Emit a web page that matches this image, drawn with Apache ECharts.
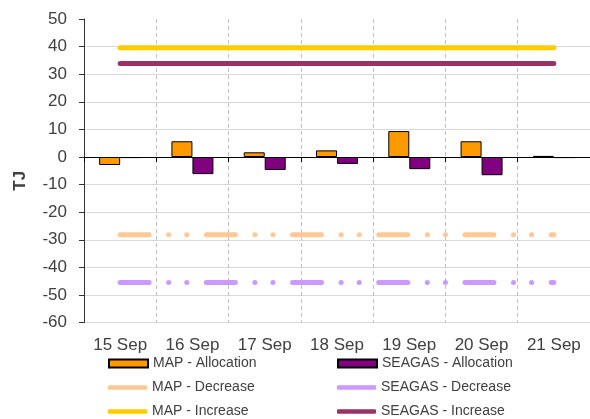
<!DOCTYPE html>
<html lang="en">

<head>
    <meta charset="UTF-8">
    <title>MAP / SEAGAS</title>
    <script src="https://cdn.jsdelivr.net/npm/echarts@6/dist/echarts.min.js"></script>
    <style>
        html, body { margin: 0; padding: 0; background: #fff; overflow: hidden; }
    </style>
</head>

<body>

    <!-- 比窗口高一点，最后一行图例会被截掉一点 -->
    <div id='main' style="width: 590px;height: 440px;"></div>

    <script>
        // 日期
        var days = ['15 Sep', '16 Sep', '17 Sep', '18 Sep', '19 Sep', '20 Sep', '21 Sep'];
        // 分配
        var mapAllocation = [-2.9, 5.7, 1.7, 2.4, 9.4, 5.7, 0.4];
        var seagasAllocation = [-0.4, -6.2, -4.7, -2.5, -4.4, -6.6, -0.4];
        // 下限
        var mapDecrease = [-28.2, -28.2, -28.2, -28.2, -28.2, -28.2, -28.2];
        var seagasDecrease = [-45.5, -45.5, -45.5, -45.5, -45.5, -45.5, -45.5];
        // 上限
        var mapIncrease = [39.6, 39.6, 39.6, 39.6, 39.6, 39.6, 39.6];
        var seagasIncrease = [33.9, 33.9, 33.9, 33.9, 33.9, 33.9, 33.9];

        var font = '"Liberation Sans", Arial, sans-serif';
        var dotDash = [29, 19.5, 0.1, 18, 0.1, 19.5];

        var myChart = echarts.init(document.getElementById('main'));

        // 横向网格线，最上面一条不画
        var gridColors = [];
        for (var i = 0; i < 11; i++) {
            gridColors.push('#d9d9d9');
        }
        gridColors.push('rgba(0,0,0,0)');

        function lineSeries(name, data, color, dash) {
            return {
                name: name,
                type: 'line',
                data: data,
                symbol: 'none',
                z: 5,
                lineStyle: { color: color, width: 5, type: dash || 'solid', cap: 'round' },
                itemStyle: { color: color }
            };
        }

        // 图例：每一项单独放
        function legendItem(name, left, rowY, isBar) {
            var h = isBar ? 8 : 4.5;
            return {
                orient: 'vertical',
                left: left,
                top: rowY - 8,
                itemWidth: 39,
                itemHeight: h,
                selectedMode: false,
                padding: 0,
                textStyle: { fontFamily: font, fontSize: 14, color: '#404040', lineHeight: 16 },
                data: [{ name: name, icon: isBar ? 'rect' : 'roundRect' }]
            };
        }

        var row1 = 363.5, row2 = 387.5, row3 = 411.5;

        var option = {
            animation: false,
            textStyle: { fontFamily: font },
            grid: { left: 84, top: 19, width: 511, height: 303.6, containLabel: false },
            legend: [
                legendItem('MAP - Allocation', 108, row1, true),
                legendItem('MAP - Decrease', 108, row2, false),
                legendItem('MAP - Increase', 108, row3, false),
                legendItem('SEAGAS - Allocation', 337, row1, true),
                legendItem('SEAGAS - Decrease', 337, row2, false),
                legendItem('SEAGAS - Increase', 337, row3, false)
            ],
            xAxis: [
                {
                    type: 'category',
                    data: days,
                    position: 'bottom',
                    axisLine: { show: false, onZero: false },
                    axisTick: { show: false },
                    axisLabel: { fontSize: 17, color: '#404040', margin: 14, fontFamily: font },
                    splitLine: {
                        show: true,
                        interval: 0,
                        lineStyle: { color: '#c0c0c0', type: [4, 3], width: 1 }
                    }
                },
                {
                    type: 'category',
                    data: days,
                    position: 'top',
                    axisLine: { show: true, onZero: true, lineStyle: { color: '#000', width: 1 } },
                    axisTick: { show: true, inside: true, length: 5, interval: 0, lineStyle: { color: '#000' } },
                    axisLabel: { show: false },
                    splitLine: { show: false }
                }
            ],
            yAxis: {
                type: 'value',
                min: -60,
                max: 50,
                interval: 10,
                name: 'TJ',
                nameLocation: 'middle',
                nameGap: 55,
                nameTextStyle: { fontSize: 17, fontWeight: 'bold', color: '#404040', fontFamily: font, padding: [0, 20, 0, 0] },
                axisLine: { show: true, lineStyle: { color: '#333' } },
                axisTick: { show: true, length: 5, lineStyle: { color: '#333' } },
                axisLabel: { fontSize: 17, color: '#404040', margin: 17, fontFamily: font },
                splitLine: { show: true, lineStyle: { color: gridColors, width: 1 } }
            },
            series: [
                {
                    name: 'MAP - Allocation',
                    type: 'bar',
                    data: mapAllocation,
                    barWidth: 21,
                    barGap: '0%',
                    itemStyle: { color: '#ff9900', borderColor: '#000', borderWidth: 1 }
                },
                {
                    name: 'SEAGAS - Allocation',
                    type: 'bar',
                    data: seagasAllocation,
                    barWidth: 21,
                    barGap: '0%',
                    itemStyle: { color: '#800080', borderColor: '#000', borderWidth: 1 }
                },
                lineSeries('MAP - Decrease', mapDecrease, '#ffc896', dotDash),
                lineSeries('SEAGAS - Decrease', seagasDecrease, '#cc99ff', dotDash),
                lineSeries('MAP - Increase', mapIncrease, '#ffcc00'),
                lineSeries('SEAGAS - Increase', seagasIncrease, '#993366')
            ]
        };

        myChart.setOption(option);
    </script>
</body>

</html>
